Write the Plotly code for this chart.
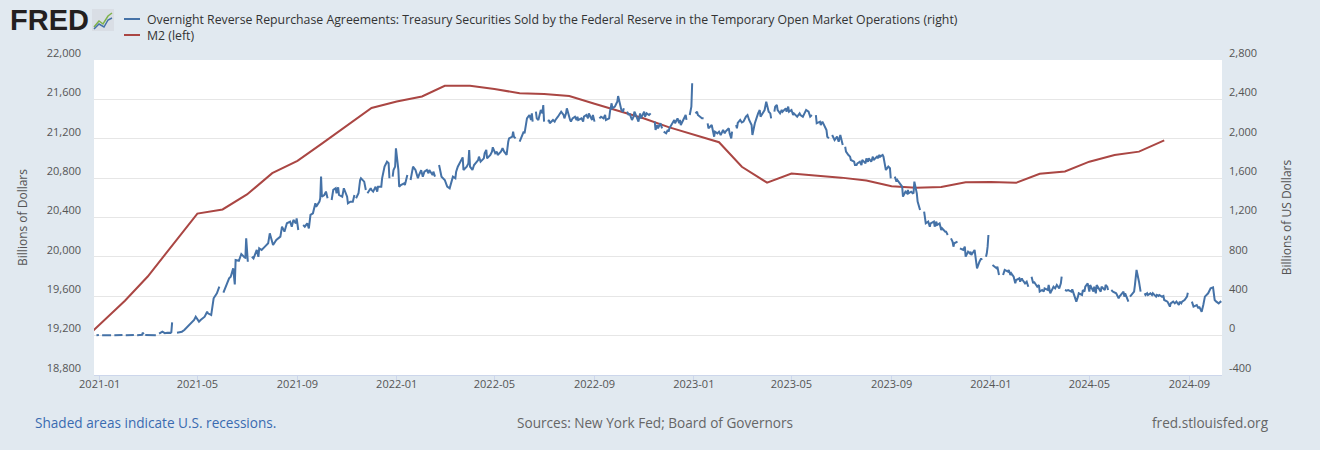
import plotly.graph_objects as go

# ---------------- data ----------------
m2_dates = [
    "2020-12-01", "2021-01-01", "2021-02-01", "2021-03-01", "2021-04-01", "2021-05-01",
    "2021-06-01", "2021-07-01", "2021-08-01", "2021-09-01", "2021-10-01", "2021-11-01",
    "2021-12-01", "2022-01-01", "2022-02-01", "2022-03-01", "2022-04-01", "2022-05-01",
    "2022-06-01", "2022-07-01", "2022-08-01", "2022-09-01", "2022-10-01", "2022-11-01",
    "2022-12-01", "2023-01-01", "2023-02-01", "2023-03-01", "2023-04-01", "2023-05-01",
    "2023-06-01", "2023-07-01", "2023-08-01", "2023-09-01", "2023-10-01", "2023-11-01",
    "2023-12-01", "2024-01-01", "2024-02-01", "2024-03-01", "2024-04-01", "2024-05-01",
    "2024-06-01", "2024-07-01", "2024-08-01",
]
m2_values = [
    19070, 19310, 19555, 19800, 20122, 20440,
    20482, 20634, 20850, 20976, 21150, 21330,
    21512, 21578, 21630, 21738, 21738, 21706,
    21662, 21655, 21634, 21555, 21485, 21405,
    21318, 21238, 21165, 20915, 20754, 20847,
    20828, 20805, 20775, 20718, 20702, 20710,
    20757, 20760, 20752, 20844, 20867, 20967,
    21035, 21069, 21184,
]

rrp_dates = [
    # 2020-12 / 2021-01
    "2020-12-28", "2020-12-31", "2021-01-01", "2021-01-04", "2021-01-08", "2021-01-13", "2021-01-15", "2021-01-18", "2021-01-19", "2021-01-25", "2021-01-29",
    # 2021-02
    "2021-02-01", "2021-02-02", "2021-02-08", "2021-02-12", "2021-02-15", "2021-02-16", "2021-02-22", "2021-02-23", "2021-02-24", "2021-02-25", "2021-02-26",
    # 2021-03
    "2021-03-03", "2021-03-08", "2021-03-11", "2021-03-12", "2021-03-15", "2021-03-17", "2021-03-19", "2021-03-22", "2021-03-25", "2021-03-29", "2021-03-30", "2021-03-31",
    # 2021-04
    "2021-04-01", "2021-04-06", "2021-04-12", "2021-04-15", "2021-04-19", "2021-04-23", "2021-04-27", "2021-04-29",
    # 2021-05
    "2021-05-03", "2021-05-05", "2021-05-10", "2021-05-13", "2021-05-14", "2021-05-18", "2021-05-21", "2021-05-25", "2021-05-28", "2021-05-31",
    # 2021-06
    "2021-06-02", "2021-06-04", "2021-06-09", "2021-06-11", "2021-06-14", "2021-06-16", "2021-06-17", "2021-06-21", "2021-06-23", "2021-06-24", "2021-06-28", "2021-06-29", "2021-06-30",
    # 2021-07
    "2021-07-02", "2021-07-05", "2021-07-07", "2021-07-09", "2021-07-13", "2021-07-15", "2021-07-16", "2021-07-19", "2021-07-23", "2021-07-27", "2021-07-29",
    # 2021-08
    "2021-08-02", "2021-08-06", "2021-08-11", "2021-08-13", "2021-08-16", "2021-08-19", "2021-08-23", "2021-08-25", "2021-08-27", "2021-08-30", "2021-08-31",
    # 2021-09
    "2021-09-02", "2021-09-06", "2021-09-08", "2021-09-10", "2021-09-13", "2021-09-15", "2021-09-17", "2021-09-20", "2021-09-23", "2021-09-24", "2021-09-28", "2021-09-29", "2021-09-30",
    # 2021-10
    "2021-10-01", "2021-10-04", "2021-10-06", "2021-10-08", "2021-10-11", "2021-10-13", "2021-10-15", "2021-10-18", "2021-10-19", "2021-10-21", "2021-10-22", "2021-10-26", "2021-10-28",
    # 2021-11
    "2021-11-01", "2021-11-02", "2021-11-05", "2021-11-08", "2021-11-10", "2021-11-11", "2021-11-12", "2021-11-15", "2021-11-17", "2021-11-18", "2021-11-22", "2021-11-24", "2021-11-25", "2021-11-26", "2021-11-30",
    # 2021-12
    "2021-12-01", "2021-12-03", "2021-12-06", "2021-12-08", "2021-12-09", "2021-12-13", "2021-12-14", "2021-12-16", "2021-12-17", "2021-12-20", "2021-12-22", "2021-12-23", "2021-12-24", "2021-12-27", "2021-12-28", "2021-12-30", "2021-12-31",
    # 2022-01
    "2022-01-03", "2022-01-04", "2022-01-06", "2022-01-10", "2022-01-11", "2022-01-13", "2022-01-14", "2022-01-17", "2022-01-18", "2022-01-20", "2022-01-21", "2022-01-24", "2022-01-26", "2022-01-27", "2022-01-28", "2022-01-31",
    # 2022-02
    "2022-02-02", "2022-02-04", "2022-02-07", "2022-02-09", "2022-02-10", "2022-02-14", "2022-02-15", "2022-02-17", "2022-02-21", "2022-02-22", "2022-02-23", "2022-02-25",
    # 2022-03
    "2022-03-01", "2022-03-03", "2022-03-04", "2022-03-07", "2022-03-08", "2022-03-10", "2022-03-11", "2022-03-14", "2022-03-15", "2022-03-17", "2022-03-18", "2022-03-21", "2022-03-23", "2022-03-24", "2022-03-28", "2022-03-30", "2022-03-31",
    # 2022-04
    "2022-04-01", "2022-04-04", "2022-04-06", "2022-04-08", "2022-04-11", "2022-04-12", "2022-04-14", "2022-04-18", "2022-04-19", "2022-04-21", "2022-04-22", "2022-04-26", "2022-04-28", "2022-04-29",
    # 2022-05
    "2022-05-02", "2022-05-04", "2022-05-05", "2022-05-09", "2022-05-10", "2022-05-11", "2022-05-13", "2022-05-16", "2022-05-18", "2022-05-19", "2022-05-23", "2022-05-24", "2022-05-25", "2022-05-27", "2022-05-30",
    # 2022-06
    "2022-06-01", "2022-06-03", "2022-06-06", "2022-06-07", "2022-06-09", "2022-06-10", "2022-06-13", "2022-06-15", "2022-06-16", "2022-06-17", "2022-06-20", "2022-06-21", "2022-06-22", "2022-06-24", "2022-06-27", "2022-06-29", "2022-06-30",
    # 2022-07
    "2022-07-01", "2022-07-04", "2022-07-06", "2022-07-07", "2022-07-08", "2022-07-12", "2022-07-14", "2022-07-15", "2022-07-18", "2022-07-20", "2022-07-22", "2022-07-25", "2022-07-26", "2022-07-28", "2022-07-29",
    # 2022-08
    "2022-08-02", "2022-08-03", "2022-08-05", "2022-08-08", "2022-08-10", "2022-08-11", "2022-08-12", "2022-08-16", "2022-08-18", "2022-08-19", "2022-08-22", "2022-08-24", "2022-08-25", "2022-08-29", "2022-08-30",
    # 2022-09
    "2022-09-01", "2022-09-05", "2022-09-07", "2022-09-09", "2022-09-12", "2022-09-14", "2022-09-15", "2022-09-19", "2022-09-20", "2022-09-22", "2022-09-23", "2022-09-26", "2022-09-28", "2022-09-29", "2022-09-30",
    # 2022-10
    "2022-10-03", "2022-10-04", "2022-10-06", "2022-10-07", "2022-10-10", "2022-10-11", "2022-10-13", "2022-10-14", "2022-10-17", "2022-10-19", "2022-10-20", "2022-10-21", "2022-10-25", "2022-10-27", "2022-10-28",
    # 2022-11
    "2022-11-01", "2022-11-02", "2022-11-04", "2022-11-07", "2022-11-09", "2022-11-11", "2022-11-14", "2022-11-15", "2022-11-17", "2022-11-18", "2022-11-21", "2022-11-23", "2022-11-24", "2022-11-25", "2022-11-28", "2022-11-30",
    # 2022-12
    "2022-12-01", "2022-12-02", "2022-12-06", "2022-12-08", "2022-12-09", "2022-12-12", "2022-12-14", "2022-12-15", "2022-12-16", "2022-12-20", "2022-12-22", "2022-12-23", "2022-12-26", "2022-12-27", "2022-12-29", "2022-12-30",
    # 2023-01
    "2023-01-02", "2023-01-03", "2023-01-05", "2023-01-06", "2023-01-09", "2023-01-11", "2023-01-13", "2023-01-16", "2023-01-18", "2023-01-19", "2023-01-23", "2023-01-24", "2023-01-26", "2023-01-27", "2023-01-30",
    # 2023-02
    "2023-02-01", "2023-02-03", "2023-02-06", "2023-02-08", "2023-02-09", "2023-02-13", "2023-02-14", "2023-02-16", "2023-02-17", "2023-02-20", "2023-02-22", "2023-02-23", "2023-02-24", "2023-02-27",
    # 2023-03
    "2023-03-01", "2023-03-03", "2023-03-06", "2023-03-08", "2023-03-10", "2023-03-13", "2023-03-14", "2023-03-15", "2023-03-16", "2023-03-17", "2023-03-21", "2023-03-23", "2023-03-24", "2023-03-27", "2023-03-29", "2023-03-31",
    # 2023-04
    "2023-04-03", "2023-04-05", "2023-04-06", "2023-04-07", "2023-04-10", "2023-04-11", "2023-04-13", "2023-04-14", "2023-04-17", "2023-04-19", "2023-04-20", "2023-04-24", "2023-04-25", "2023-04-27", "2023-04-28",
    # 2023-05
    "2023-05-01", "2023-05-03", "2023-05-04", "2023-05-08", "2023-05-09", "2023-05-11", "2023-05-12", "2023-05-15", "2023-05-17", "2023-05-19", "2023-05-22", "2023-05-24", "2023-05-26", "2023-05-29", "2023-05-31",
    # 2023-06
    "2023-06-01", "2023-06-05", "2023-06-06", "2023-06-08", "2023-06-09", "2023-06-12", "2023-06-13", "2023-06-14", "2023-06-16", "2023-06-19", "2023-06-20", "2023-06-22", "2023-06-23", "2023-06-26", "2023-06-28", "2023-06-30",
    # 2023-07
    "2023-07-03", "2023-07-04", "2023-07-06", "2023-07-07", "2023-07-10", "2023-07-12", "2023-07-13", "2023-07-17", "2023-07-18", "2023-07-20", "2023-07-21", "2023-07-24", "2023-07-26", "2023-07-27", "2023-07-31",
    # 2023-08
    "2023-08-01", "2023-08-03", "2023-08-04", "2023-08-07", "2023-08-09", "2023-08-10", "2023-08-14", "2023-08-15", "2023-08-17", "2023-08-18", "2023-08-21", "2023-08-22", "2023-08-24", "2023-08-25", "2023-08-28", "2023-08-30", "2023-08-31",
    # 2023-09
    "2023-09-04", "2023-09-05", "2023-09-07", "2023-09-08", "2023-09-11", "2023-09-13", "2023-09-14", "2023-09-15", "2023-09-18", "2023-09-20", "2023-09-21", "2023-09-22", "2023-09-25", "2023-09-27", "2023-09-28", "2023-09-29",
    # 2023-10
    "2023-10-02", "2023-10-03", "2023-10-05", "2023-10-06", "2023-10-09", "2023-10-11", "2023-10-12", "2023-10-13", "2023-10-16", "2023-10-18", "2023-10-19", "2023-10-23", "2023-10-24", "2023-10-26", "2023-10-27", "2023-10-30",
    # 2023-11
    "2023-11-01", "2023-11-02", "2023-11-06", "2023-11-07", "2023-11-09", "2023-11-10", "2023-11-13", "2023-11-15", "2023-11-16", "2023-11-17", "2023-11-21", "2023-11-23", "2023-11-24", "2023-11-28", "2023-11-30",
    # 2023-12
    "2023-12-01", "2023-12-04", "2023-12-06", "2023-12-07", "2023-12-08", "2023-12-12", "2023-12-14", "2023-12-15", "2023-12-18", "2023-12-20", "2023-12-21", "2023-12-25", "2023-12-26", "2023-12-27", "2023-12-28", "2023-12-29",
    # 2024-01
    "2024-01-01", "2024-01-03", "2024-01-05", "2024-01-08", "2024-01-09", "2024-01-11", "2024-01-15", "2024-01-16", "2024-01-18", "2024-01-22", "2024-01-23", "2024-01-25", "2024-01-26", "2024-01-29", "2024-01-31",
    # 2024-02
    "2024-02-01", "2024-02-05", "2024-02-06", "2024-02-08", "2024-02-09", "2024-02-12", "2024-02-14", "2024-02-16", "2024-02-19", "2024-02-20", "2024-02-22", "2024-02-23", "2024-02-27", "2024-02-29",
    # 2024-03
    "2024-03-01", "2024-03-04", "2024-03-06", "2024-03-07", "2024-03-11", "2024-03-12", "2024-03-14", "2024-03-15", "2024-03-18", "2024-03-20", "2024-03-22", "2024-03-25", "2024-03-26", "2024-03-27", "2024-03-28", "2024-03-29",
    # 2024-04
    "2024-04-01", "2024-04-03", "2024-04-05", "2024-04-09", "2024-04-10", "2024-04-12", "2024-04-15", "2024-04-17", "2024-04-18", "2024-04-22", "2024-04-23", "2024-04-25", "2024-04-26", "2024-04-29",
    # 2024-05
    "2024-05-01", "2024-05-02", "2024-05-06", "2024-05-07", "2024-05-09", "2024-05-10", "2024-05-13", "2024-05-15", "2024-05-16", "2024-05-20", "2024-05-21", "2024-05-23", "2024-05-24", "2024-05-27", "2024-05-28", "2024-05-30",
    # 2024-06
    "2024-06-03", "2024-06-04", "2024-06-06", "2024-06-07", "2024-06-10", "2024-06-12", "2024-06-13", "2024-06-14", "2024-06-18", "2024-06-19", "2024-06-20", "2024-06-24", "2024-06-25", "2024-06-26", "2024-06-27", "2024-06-28",
    # 2024-07
    "2024-07-01", "2024-07-03", "2024-07-04", "2024-07-08", "2024-07-09", "2024-07-11", "2024-07-12", "2024-07-15", "2024-07-17", "2024-07-18", "2024-07-22", "2024-07-23", "2024-07-25", "2024-07-26", "2024-07-29", "2024-07-31",
    # 2024-08
    "2024-08-01", "2024-08-05", "2024-08-06", "2024-08-08", "2024-08-09", "2024-08-12", "2024-08-14", "2024-08-16", "2024-08-19", "2024-08-20", "2024-08-22", "2024-08-23", "2024-08-26", "2024-08-28", "2024-08-29", "2024-08-30",
    # 2024-09 / 2024-10
    "2024-09-02", "2024-09-04", "2024-09-05", "2024-09-06", "2024-09-10", "2024-09-12", "2024-09-13", "2024-09-16", "2024-09-18", "2024-09-19", "2024-09-20", "2024-09-24", "2024-09-26", "2024-09-27", "2024-09-30", "2024-10-01", "2024-10-02", "2024-10-04", "2024-10-07", "2024-10-09", "2024-10-10",
]
rrp_values = [
    # 2020-12 / 2021-01
    4, 6, None, 5, 3, 6, 4, None, 5, 3, 6,
    # 2021-02
    None, 4, 5, 6, None, 5, 8, 30, 12, None, 6,
    # 2021-03
    5, 8, 5, None, 20, 28, 40, 25, 30, 28, 35, 135,
    # 2021-04
    None, 30, 40, 57, 91, 125, 159, 192,
    # 2021-05
    142, 159, 192, 243, 226, 209, 379, 430, 497, None,
    # 2021-06
    436, 481, 582, 599, 684, 520, 768, 760, 809, 829, 795, 791, 989,
    # 2021-07
    751, None, 802, 785, 870, 800, 887, 870, 904, 938, 1039,
    # 2021-08
    921, 972, 1006, 1107, 1056, 1141, 1158, 1107, 1175, 1141, 1192,
    # 2021-09
    1073, None, 1124, 1107, 1141, 1090, 1226, 1243, 1344, 1310, 1361, 1395, 1615,
    # 2021-10
    1412, 1429, 1463, 1395, None, 1378, 1480, 1497, 1446, 1507, 1429, 1412, 1497,
    # 2021-11
    1412, 1344, 1361, 1361, 1429, None, 1395, 1446, 1581, 1598, 1564, 1480, None, 1446, 1497,
    # 2021-12
    1480, 1463, 1513, 1463, 1513, 1513, 1598, 1666, 1717, 1767, 1751, 1598, None, 1615, 1683, 1717, 1903,
    # 2022-01
    1683, 1513, 1530, 1547, 1530, 1598, 1632, None, 1581, 1683, 1717, 1683, 1640, 1598, 1625, 1680,
    # 2022-02
    1615, 1666, 1683, 1649, 1683, 1632, 1666, 1615, None, 1733, 1683, 1615,
    # 2022-03
    1581, 1547, 1513, 1496, 1530, 1581, 1615, 1598, 1666, 1716, 1733, 1784, 1811, 1683, 1716, 1750, 1886,
    # 2022-04
    1716, 1683, 1733, 1750, 1784, 1818, 1767, 1801, 1852, 1886, 1801, 1835, 1869, 1913,
    # 2022-05
    1852, 1869, 1835, 1869, 1886, 1903, 1869, 1835, 1970, 2004, 2021, 2072, 2021, 2004, None,
    # 2022-06
    1970, 2004, 2072, 2055, 2157, 2207, 2241, 2191, 2258, 2174, None, 2275, 2207, 2191, 2292, 2258, 2343,
    # 2022-07
    2174, None, 2174, 2191, 2157, 2191, 2174, 2191, 2224, 2258, 2275, 2241, 2207, 2258, 2309,
    # 2022-08
    2191, 2174, 2207, 2224, 2191, 2224, 2191, 2207, 2174, 2224, 2241, 2207, 2258, 2191, 2241,
    # 2022-09
    2174, None, 2207, 2224, 2207, 2241, 2191, 2207, 2275, 2360, 2309, 2326, 2360, 2377, 2434,
    # 2022-10
    2326, 2292, 2275, 2309, None, 2275, 2241, 2258, 2191, 2224, 2275, 2258, 2174, 2258, 2207,
    # 2022-11
    2275, 2224, 2258, 2241, 2258, None, 2174, 2089, 2140, 2106, 2157, 2106, None, 2072, 2055, 2089,
    # 2022-12
    2072, 2106, 2157, 2191, 2157, 2207, 2157, 2191, 2140, 2207, 2241, 2191, None, 2241, 2326, 2563,
    # 2023-01
    None, 2258, 2275, 2241, 2224, 2207, 2207, None, 2157, 2106, 2140, 2106, 2021, 2072, 2055,
    # 2023-02
    2072, 2038, 2089, 2055, 2072, 2106, 2055, 2004, 2072, None, 2140, 2106, 2160, 2191,
    # 2023-03
    2165, 2174, 2224, 2241, 2191, 2140, 2038, 2089, 2123, 2157, 2258, 2292, 2224, 2258, 2292, 2377,
    # 2023-04
    2275, 2258, 2207, None, 2275, 2326, 2343, 2292, 2258, 2292, 2275, 2309, 2275, 2326, 2275,
    # 2023-05
    2292, 2241, 2258, 2224, 2241, 2258, 2241, 2224, 2258, 2292, 2275, 2224, 2241, None, 2241,
    # 2023-06
    2157, 2174, 2140, 2174, 2157, 2123, 2089, 2021, 2004, None, 2038, 2004, 1987, 2021, 1970, 2038,
    # 2023-07
    1936, None, 1919, 1869, 1835, 1818, 1784, 1767, 1733, 1733, 1750, 1767, 1733, 1784, 1750,
    # 2023-08
    1801, 1767, 1801, 1767, 1818, 1784, 1818, 1801, 1835, 1818, 1835, 1818, 1717, 1683, 1717, 1700, 1598,
    # 2023-09
    None, 1615, 1564, 1581, 1547, 1530, 1513, 1412, 1462, 1446, 1479, 1446, 1462, 1446, 1450, 1564,
    # 2023-10
    1446, 1361, 1293, 1276, None, 1259, 1175, 1141, 1158, 1107, 1141, 1158, 1107, 1158, 1124, 1141,
    # 2023-11
    1073, 1090, 1056, 1056, 1022, None, 988, 954, 904, 938, 954, None, 887, 870, 904,
    # 2023-12
    802, 853, 836, 853, 819, 870, 768, 684, 751, 785, 768, None, 802, 836, 904, 1022,
    # 2024-01
    None, 718, 701, 684, 701, 616, None, 616, 667, 650, 667, 616, 633, 599, 531,
    # 2024-02
    565, 582, 548, 582, 565, 531, 548, 497, None, 599, 531, 548, 497, 514,
    # 2024-03
    447, 464, 447, 480, 464, 514, 430, 447, 497, 480, 514, 480, 497, 531, 599, None,
    # 2024-04
    463, 457, 463, 447, 470, 413, 345, 396, 430, 413, 463, 447, 497, 531,
    # 2024-05
    447, 514, 447, 497, 430, 514, 480, 447, 497, 463, 514, 497, 463, None, 463, 447,
    # 2024-06
    430, 413, 379, 396, 430, 447, 396, 430, 345, None, 396, 430, 447, 514, 599, 667,
    # 2024-07
    548, 447, None, 430, 413, 430, 413, 430, 413, 430, 396, 413, 403, 413, 396, 403,
    # 2024-08
    362, 345, 328, 294, 328, 345, 328, 345, 311, 345, 328, 345, 362, 379, 396, 436,
    # 2024-09 / 2024-10
    None, 345, 311, 294, 311, 277, 294, 243, 311, 362, 396, 430, 463, 480, 490, 400, 362, 345, 328, 345, 335,
]
assert len(rrp_dates) == len(rrp_values)

rrp_name = ("Overnight Reverse Repurchase Agreements: Treasury Securities Sold by the "
            "Federal Reserve in the Temporary Open Market Operations (right)")
m2_name = "M2 (left)"

left_ticks = [18800, 19200, 19600, 20000, 20400, 20800, 21200, 21600, 22000]
right_ticks = [-400, 0, 400, 800, 1200, 1600, 2000, 2400, 2800]
x_tick_dates = ["2021-01-01", "2021-05-01", "2021-09-01", "2022-01-01", "2022-05-01",
                "2022-09-01", "2023-01-01", "2023-05-01", "2023-09-01", "2024-01-01",
                "2024-05-01", "2024-09-01"]
x_tick_labels = [d[:7] for d in x_tick_dates]

# ---------------- figure ----------------
W, H = 1320, 450
ML, MR, MT, MB = 94, 98, 60, 75
PW, PH = W - ML - MR, H - MT - MB


def px(xp):
    return (xp - ML) / PW


def py(yp):
    return (H - MB - yp) / PH


FONT = "Open Sans, Roboto, Arial, sans-serif"
BLUE = "#4572a7"
RED = "#aa4643"

fig = go.Figure()
fig.add_trace(go.Scatter(
    x=rrp_dates, y=rrp_values, yaxis="y2", name=rrp_name, mode="lines",
    line=dict(color=BLUE, width=2), connectgaps=False,
))
fig.add_trace(go.Scatter(
    x=m2_dates, y=m2_values, yaxis="y", name=m2_name, mode="lines",
    line=dict(color=RED, width=2),
))

tickfont = dict(family=FONT, size=11, color="#555555")

fig.update_layout(
    width=W, height=H,
    autosize=False,
    margin=dict(l=ML, r=MR, t=MT, b=MB, autoexpand=False),
    paper_bgcolor="#e1e9f0", plot_bgcolor="#ffffff",
    font=dict(family=FONT, size=12, color="#333333"),
    showlegend=False,
    hovermode=False,
    xaxis=dict(
        type="date", range=["2020-12-25", "2024-10-11"],
        tickmode="array", tickvals=x_tick_dates, ticktext=x_tick_labels,
        ticks="outside", ticklen=6, tickcolor="#ccd6eb", tickwidth=1,
        showline=True, linecolor="#ccd6eb", linewidth=1,
        showgrid=False, zeroline=False, tickfont=tickfont,
        ticklabelstandoff=-7,
    ),
    yaxis=dict(
        range=[18800, 22000], tickmode="array", tickvals=left_ticks,
        ticktext=[f"{v:,}" for v in left_ticks],
        showgrid=True, gridcolor="#e6e6e6", gridwidth=1, zeroline=False,
        showline=False, ticks="", tickfont=tickfont,
        ticklabelstandoff=12, ticklabelshift=-7,
        title=dict(text="Billions of Dollars", standoff=16,
                   font=dict(family=FONT, size=12, color="#555555")),
    ),
    yaxis2=dict(
        overlaying="y", side="right", anchor="x",
        range=[-400, 2800], tickmode="array", tickvals=right_ticks,
        ticktext=[f"{v:,}" for v in right_ticks],
        showgrid=False, zeroline=False, showline=False, ticks="",
        tickfont=tickfont, ticklabelstandoff=6, ticklabelshift=-7,
        title=dict(text="Billions of US Dollars", standoff=26,
                   font=dict(family=FONT, size=12, color="#555555")),
    ),
)

annotations = [
    dict(text="<b>FRED</b>", x=px(8), y=py(20), xref="paper", yref="paper",
         xanchor="left", yanchor="middle", showarrow=False,
         font=dict(family="Liberation Sans, Arial, sans-serif", size=29, color="#231f20")),
    # legend entries
    dict(text=rrp_name, x=px(145), y=py(19), xref="paper", yref="paper",
         xanchor="left", yanchor="middle", showarrow=False,
         font=dict(family=FONT, size=12.3, color="#333333")),
    dict(text=m2_name, x=px(145), y=py(35), xref="paper", yref="paper",
         xanchor="left", yanchor="middle", showarrow=False,
         font=dict(family=FONT, size=12.3, color="#333333")),
    # footer
    dict(text="Shaded areas indicate U.S. recessions.", x=px(33), y=py(423),
         xref="paper", yref="paper", xanchor="left", yanchor="middle", showarrow=False,
         font=dict(family=FONT, size=13.6, color="#3a6bb0")),
    dict(text="Sources: New York Fed; Board of Governors", x=px(655), y=py(423),
         xref="paper", yref="paper", xanchor="center", yanchor="middle", showarrow=False,
         font=dict(family=FONT, size=13.6, color="#666666")),
    dict(text="fred.stlouisfed.org", x=px(1271), y=py(423),
         xref="paper", yref="paper", xanchor="right", yanchor="middle", showarrow=False,
         font=dict(family=FONT, size=13.6, color="#666666")),
]
fig.update_layout(annotations=annotations)

shapes = [
    # legend line keys
    dict(type="line", xref="paper", yref="paper", x0=px(124), x1=px(140), y0=py(19), y1=py(19),
         line=dict(color=BLUE, width=2)),
    dict(type="line", xref="paper", yref="paper", x0=px(124), x1=px(140), y0=py(35), y1=py(35),
         line=dict(color=RED, width=2)),
    # small FRED logo icon (decoration)
    dict(type="rect", xref="paper", yref="paper", x0=px(92), x1=px(114), y0=py(31), y1=py(9),
         fillcolor="#d9dee5", line=dict(width=0), layer="above"),
    dict(type="path", xref="paper", yref="paper",
         path=f"M {px(94)},{py(27)} L {px(99)},{py(21)} L {px(103)},{py(24)} L {px(108)},{py(16)} L {px(112)},{py(13)}",
         line=dict(color="#7fb24a", width=1.5), layer="above"),
    dict(type="path", xref="paper", yref="paper",
         path=f"M {px(94)},{py(29)} L {px(99)},{py(24)} L {px(104)},{py(27)} L {px(108)},{py(20)} L {px(112)},{py(18)}",
         line=dict(color="#4572a7", width=1.5), layer="above"),
]
fig.update_layout(shapes=shapes)

fig.write_html(
    "out.html",
    config={"displayModeBar": False, "responsive": False},
    post_script="document.body.style.margin='0';document.body.style.padding='0';",
)
